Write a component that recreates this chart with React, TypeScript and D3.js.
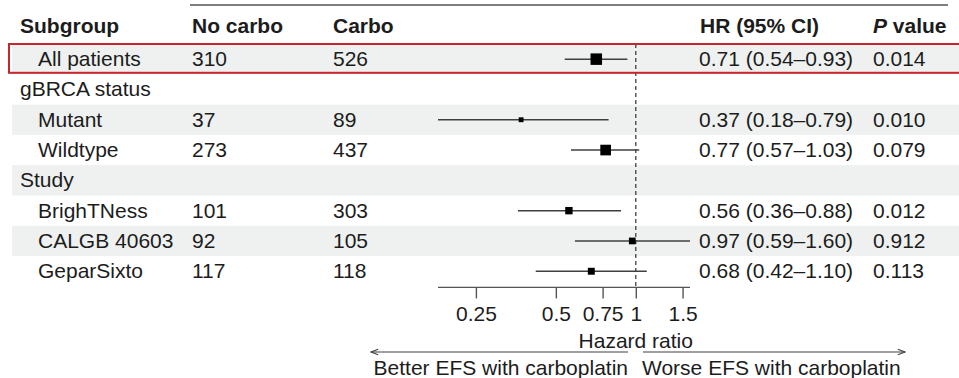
import React, { useEffect, useRef } from 'react';
import * as d3 from 'd3';

// rows of the forest plot
const subgroups = ['All patients', 'gBRCA status', 'Mutant', 'Wildtype', 'Study', 'BrighTNess', 'CALGB 40603', 'GeparSixto'];
const indent = [1, 0, 1, 1, 0, 1, 1, 1];
const noCarbo = [310, null, 37, 273, null, 101, 92, 117];
const carbo = [526, null, 89, 437, null, 303, 105, 118];
const hr = [0.71, null, 0.37, 0.77, null, 0.56, 0.97, 0.68];
const ciLow = [0.54, null, 0.18, 0.57, null, 0.36, 0.59, 0.42];
const ciHigh = [0.93, null, 0.79, 1.03, null, 0.88, 1.6, 1.1];
const pValues = ['0.014', '', '0.010', '0.079', '', '0.012', '0.912', '0.113'];
const xTicks = [0.25, 0.5, 0.75, 1, 1.5];

const W = 959;
const H = 378;
const FONT = '"Liberation Sans", Arial, Helvetica, sans-serif';
const TEXT = '#1c1c1c';
const LINE = '#404040';

function Forest() {
	const svgRef = useRef(null);

	useEffect(() => {
		document.body.style.margin = '0';
		const svg = d3.select(svgRef.current)
			.attr('width', W)
			.attr('height', H)
			.style('display', 'block')
			.style('background', '#fff');
		svg.selectAll('*').remove();

		const rows = d3.range(subgroups.length);
		const y = d3.scaleBand().domain(rows).range([44, 44 + 30.3 * rows.length]);
		const x = d3.scaleLog().domain([0.18, 1.6]).range([438, 690]);

		// inverse-variance weight -> square size
		const weight = rows.map(i => {
			if (hr[i] == null) return 0;
			const se = (Math.log(ciHigh[i]) - Math.log(ciLow[i])) / 3.92;
			return 1 / (se * se);
		});
		const size = d3.scaleSqrt().domain([0, d3.max(weight)]).range([1, 11.5]);

		const defs = svg.append('defs');
		defs.append('marker')
			.attr('id', 'arr')
			.attr('viewBox', '0 0 10 10')
			.attr('refX', 9).attr('refY', 5)
			.attr('markerWidth', 9).attr('markerHeight', 9)
			.attr('markerUnits', 'userSpaceOnUse')
			.attr('orient', 'auto-start-reverse')
			.append('path')
			.attr('d', 'M1,2 L9,5 L1,8')
			.attr('fill', 'none')
			.attr('stroke', LINE)
			.attr('stroke-width', 1.2);

		// shaded bands
		svg.selectAll('.band')
			.data(rows.filter(i => i % 2 === 0))
			.join('rect')
			.attr('x', 12)
			.attr('y', d => y(d))
			.attr('width', W - 12)
			.attr('height', y.bandwidth())
			.attr('fill', '#eef1f0');

		// top rule
		svg.append('line')
			.attr('x1', 190).attr('x2', 948)
			.attr('y1', 5).attr('y2', 5)
			.attr('stroke', '#555').attr('stroke-width', 1.5);

		// header
		const head = svg.append('g')
			.attr('font-family', FONT)
			.attr('font-size', 21)
			.attr('font-weight', 'bold')
			.attr('fill', TEXT);
		head.append('text').attr('x', 20).attr('y', 33).text('Subgroup');
		head.append('text').attr('x', 192).attr('y', 33).text('No carbo');
		head.append('text').attr('x', 333).attr('y', 33).text('Carbo');
		head.append('text').attr('x', 700).attr('y', 33).text('HR (95% CI)');
		const pv = head.append('text').attr('x', 873).attr('y', 33);
		pv.append('tspan').attr('font-style', 'italic').text('P');
		pv.append('tspan').text(' value');

		// table text
		const body = svg.append('g')
			.attr('font-family', FONT)
			.attr('font-size', 21)
			.attr('fill', TEXT);
		const rowG = body.selectAll('g')
			.data(rows)
			.join('g')
			.attr('transform', d => `translate(0,${y(d) + 22})`);
		rowG.append('text').attr('x', d => indent[d] ? 38 : 20).text(d => subgroups[d]);
		rowG.append('text').attr('x', 192).text(d => noCarbo[d] ?? '');
		rowG.append('text').attr('x', 333).text(d => carbo[d] ?? '');
		rowG.append('text').attr('x', 699)
			.text(d => hr[d] == null ? '' : `${hr[d].toFixed(2)} (${ciLow[d].toFixed(2)}\u2013${ciHigh[d].toFixed(2)})`);
		rowG.append('text').attr('x', 873).text(d => pValues[d]);

		// reference line at HR = 1
		svg.append('line')
			.attr('x1', x(1)).attr('x2', x(1))
			.attr('y1', 44).attr('y2', y.range()[1])
			.attr('stroke', LINE)
			.attr('stroke-width', 1.3)
			.attr('stroke-dasharray', '4,3');

		// CIs and squares
		const est = rows.filter(i => hr[i] != null);
		svg.selectAll('.ci')
			.data(est)
			.join('line')
			.attr('x1', d => x(ciLow[d]))
			.attr('x2', d => x(ciHigh[d]))
			.attr('y1', d => y(d) + y.bandwidth() / 2)
			.attr('y2', d => y(d) + y.bandwidth() / 2)
			.attr('stroke', LINE)
			.attr('stroke-width', 1.5);
		svg.selectAll('.pt')
			.data(est)
			.join('rect')
			.attr('x', d => x(hr[d]) - size(weight[d]) / 2)
			.attr('y', d => y(d) + y.bandwidth() / 2 - size(weight[d]) / 2)
			.attr('width', d => size(weight[d]))
			.attr('height', d => size(weight[d]))
			.attr('fill', '#000');

		// highlight box
		svg.append('rect')
			.attr('x', 9)
			.attr('y', y(0))
			.attr('width', W + 10)
			.attr('height', y.bandwidth() - 1.5)
			.attr('fill', 'none')
			.attr('stroke', '#c8262b')
			.attr('stroke-width', 2);

		// x axis
		const axisY = y.range()[1] + 1;
		const ax = svg.append('g')
			.attr('transform', `translate(0,${axisY})`)
			.call(d3.axisBottom(x).tickValues(xTicks).tickFormat(d => String(d)).tickSize(11).tickPadding(8));
		ax.select('.domain')
			.attr('d', `M${x.range()[0]},0H${x.range()[1]}`)
			.attr('stroke', '#555')
			.attr('stroke-width', 1.4);
		ax.selectAll('.tick line').attr('stroke', '#555').attr('stroke-width', 1.4);
		ax.selectAll('.tick text')
			.attr('font-family', FONT)
			.attr('font-size', 21)
			.attr('fill', TEXT);

		svg.append('text')
			.attr('x', x(1)).attr('y', 348)
			.attr('text-anchor', 'middle')
			.attr('font-family', FONT).attr('font-size', 21).attr('fill', TEXT)
			.text('Hazard ratio');

		// direction arrows
		svg.append('line')
			.attr('x1', 628).attr('x2', 371)
			.attr('y1', 352).attr('y2', 352)
			.attr('stroke', LINE).attr('stroke-width', 1.2)
			.attr('marker-end', 'url(#arr)');
		svg.append('line')
			.attr('x1', 643).attr('x2', 905)
			.attr('y1', 352).attr('y2', 352)
			.attr('stroke', LINE).attr('stroke-width', 1.2)
			.attr('marker-end', 'url(#arr)');
		svg.append('text')
			.attr('x', 628).attr('y', 375)
			.attr('text-anchor', 'end')
			.attr('font-family', FONT).attr('font-size', 21).attr('fill', TEXT)
			.text('Better EFS with carboplatin');
		svg.append('text')
			.attr('x', 642).attr('y', 375)
			.attr('font-family', FONT).attr('font-size', 21).attr('fill', TEXT)
			.text('Worse EFS with carboplatin');
	}, []);

	return <svg ref={svgRef} />;
}

export default function App() {
	return <Forest />;
}
